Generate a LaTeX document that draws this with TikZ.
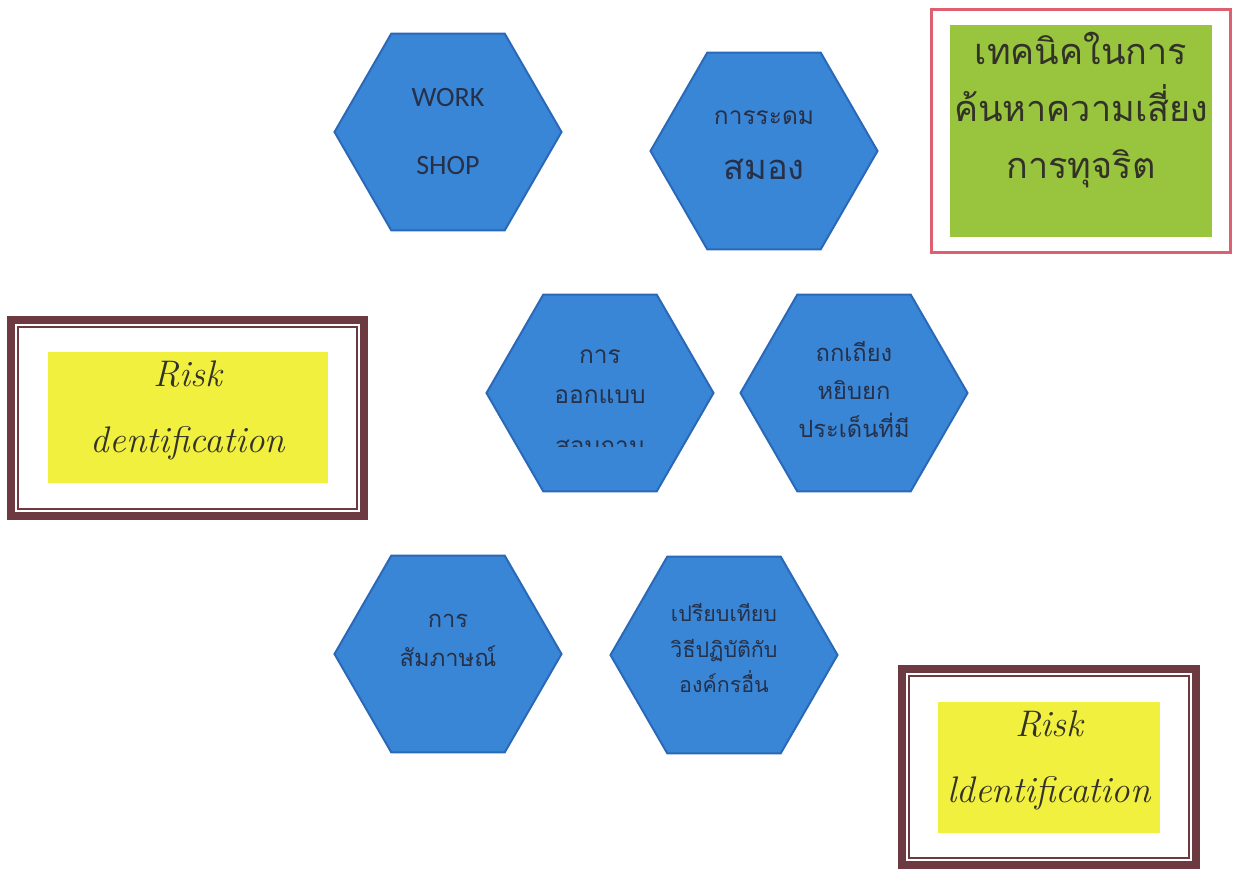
\documentclass[tikz,border=0pt]{standalone}
\usepackage{fontspec}
\usetikzlibrary{shapes.geometric}
\newfontfamily\thaifont[Script=Thai]{Loma}
\newfontfamily\latinsans{Carlito}
\definecolor{hexfill}{RGB}{58,134,214}
\definecolor{hexedge}{RGB}{42,104,184}
\definecolor{hextext}{RGB}{38,48,72}
\definecolor{greenfill}{RGB}{152,196,62}
\definecolor{redframe}{RGB}{222,96,112}
\definecolor{brownframe}{RGB}{108,58,64}
\definecolor{yellowfill}{RGB}{242,240,62}
\definecolor{darktext}{RGB}{50,50,40}
\begin{document}
\begin{tikzpicture}[x=1pt,y=-1pt,
  hexbox/.style={regular polygon, regular polygon sides=6, minimum size=227pt,
    inner sep=0pt, fill=hexfill, draw=hexedge, line width=2pt, text=hextext,
    align=center, font=\thaifont\fontsize{24}{39}\selectfont},
  hextxt/.style={text=hextext, align=center, inner sep=0pt},
  brownouter/.style={draw=brownframe, line width=8pt},
  browninner/.style={draw=brownframe, line width=2.5pt},
  yellowbox/.style={fill=yellowfill, inner sep=0pt},
  risktext/.style={text=darktext, align=center, inner sep=0pt,
    font=\itshape\fontsize{37}{66}\selectfont}
]
\useasboundingbox (0,0) rectangle (1234,869);
\fill[white] (0,0) rectangle (1234,869);

% hexagons
\node[hexbox, font=\latinsans\fontsize{28}{68}\selectfont] (ws) at (448,132) {WORK\\SHOP};

\node[hexbox] (brain) at (764,151) {};
\node[hextxt, font=\thaifont\fontsize{24.5}{30}\selectfont] (brainA) at (764,118) {การระดม};
\node[hextxt, font=\thaifont\fontsize{34.5}{40}\selectfont] (brainB) at (764,169) {สมอง};

\node[hexbox] (quest) at (600,393) {};
\node[hextxt, font=\thaifont\fontsize{24.5}{40}\selectfont] (questA) at (600,377) {การ\\ออกแบบ};
\begin{scope}
  \clip (480,420) rectangle (720,446);
  \node[hextxt, font=\thaifont\fontsize{24.5}{40}\selectfont] (questB) at (600,447) {สอบถาม};
\end{scope}

\node[hexbox] (debate) at (854,393) {};
\node[hextxt, font=\thaifont\fontsize{23.7}{38}\selectfont] (debateT) at (854,390) {ถกเถียง\\หยิบยก\\ประเด็นที่มี};

\node[hexbox] (interview) at (448,654) {};
\node[hextxt, font=\thaifont\fontsize{23.7}{39}\selectfont] (interviewT) at (448,640) {การ\\สัมภาษณ์};

\node[hexbox] (compare) at (724,655) {};
\node[hextxt, font=\thaifont\fontsize{21.4}{35.5}\selectfont] (compareT) at (724,648) {เปรียบเทียบ\\วิธีปฏิบัติกับ\\องค์กรอื่น};

% title box
\node[draw=redframe, line width=3pt, minimum width=299pt, minimum height=242pt, inner sep=0pt] (titleframe) at (1080.5,131) {};
\node[fill=greenfill, minimum width=262pt, minimum height=212pt, inner sep=0pt] (title) at (1081,131) {};
\node[text=darktext, align=center, inner sep=0pt, font=\thaifont\fontsize{36}{57}\selectfont] (titleT) at (1081,110)
  {เทคนิคในการ\\ค้นหาความเสี่ยง\\การทุจริต};

% left risk box
\node[brownouter, minimum width=353pt, minimum height=196pt, inner sep=0pt] (leftouter) at (187.5,418) {};
\node[browninner, minimum width=339pt, minimum height=182pt, inner sep=0pt] (leftinner) at (187.5,418) {};
\node[yellowbox, minimum width=280pt, minimum height=131pt] (leftrisk) at (188,417.5) {};
\node[risktext] (leftT) at (188,410) {Risk\\dentification};

% right risk box
\node[brownouter, minimum width=294pt, minimum height=196pt, inner sep=0pt] (rightouter) at (1049,767) {};
\node[browninner, minimum width=280pt, minimum height=182pt, inner sep=0pt] (rightinner) at (1049,767) {};
\node[yellowbox, minimum width=222pt, minimum height=131pt] (rightrisk) at (1049,767.5) {};
\node[risktext] (rightT) at (1049,760) {Risk\\ldentification};
\end{tikzpicture}
\end{document}
